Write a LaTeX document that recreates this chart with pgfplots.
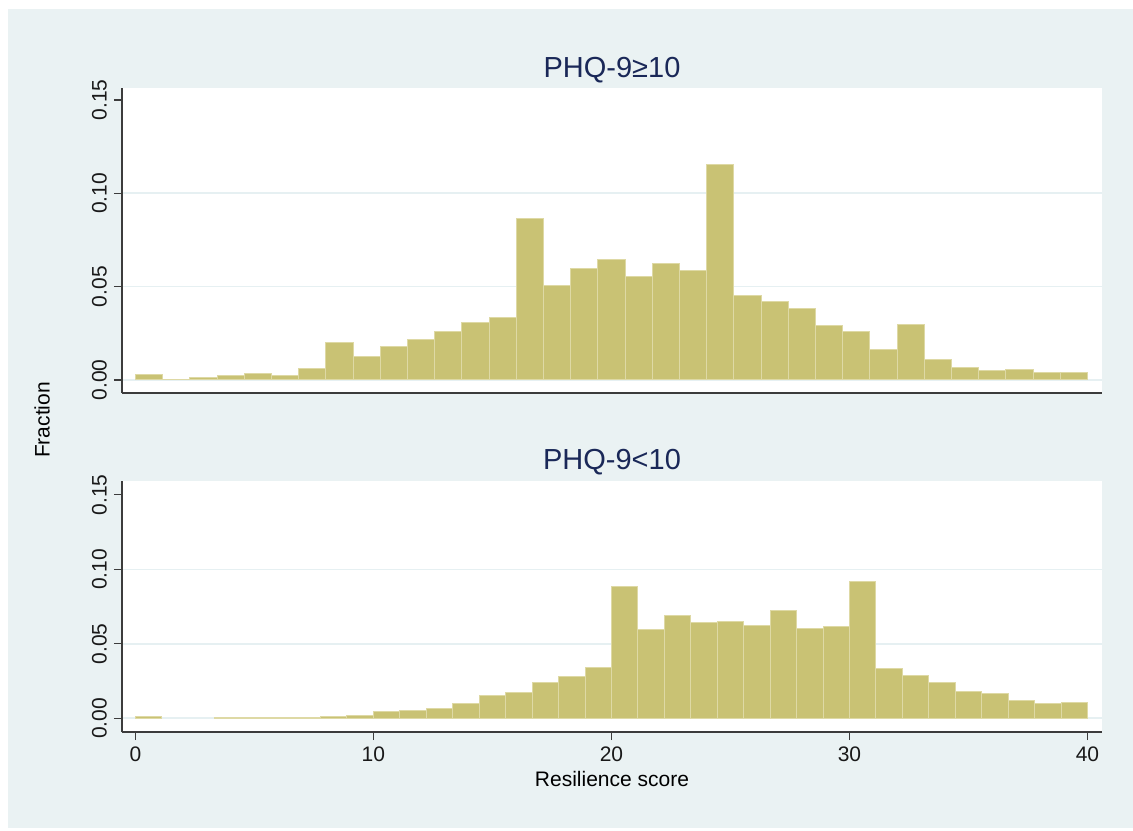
\documentclass[border=0pt]{standalone}
\usepackage{fontspec}
\setmainfont{Liberation Sans}
\usepackage{pgfplots}
\usepackage{pgfplotstable}
\pgfplotsset{compat=1.18}
\definecolor{bgc}{RGB}{234,242,243}
\definecolor{barfill}{RGB}{201,194,116}
\definecolor{baredge}{RGB}{222,217,165}
\definecolor{gridc}{RGB}{230,240,242}
\definecolor{titlec}{RGB}{26,40,88}
\definecolor{axc}{RGB}{60,60,60}

% PHQ-9 >= 10 : 35 bins of width 8/7 (bin centres)
\pgfplotstableread{
x y
0.571429 0.0029
1.714286 0.0005
2.857143 0.0014
4.000000 0.0022
5.142857 0.0032
6.285714 0.0025
7.428571 0.0059
8.571429 0.0203
9.714286 0.0127
10.857143 0.0177
12.000000 0.0219
13.142857 0.0260
14.285714 0.0310
15.428571 0.0332
16.571429 0.0866
17.714286 0.0505
18.857143 0.0599
20.000000 0.0647
21.142857 0.0552
22.285714 0.0622
23.428571 0.0584
24.571429 0.1154
25.714286 0.0455
26.857143 0.0421
28.000000 0.0384
29.142857 0.0294
30.285714 0.0258
31.428571 0.0163
32.571429 0.0299
33.714286 0.0109
34.857143 0.0065
36.000000 0.0050
37.142857 0.0056
38.285714 0.0038
39.428571 0.0038
}\tophist

% PHQ-9 < 10 : 36 bins of width 10/9 (bin centres, empty bins omitted)
\pgfplotstableread{
x y
0.555556 0.0011
3.888889 0.0006
5.000000 0.0007
6.111111 0.0007
7.222222 0.0008
8.333333 0.0013
9.444444 0.0016
10.555556 0.0045
11.666667 0.0052
12.777778 0.0067
13.888889 0.0099
15.000000 0.0155
16.111111 0.0175
17.222222 0.0240
18.333333 0.0283
19.444444 0.0339
20.555556 0.0888
21.666667 0.0594
22.777778 0.0691
23.888889 0.0641
25.000000 0.0652
26.111111 0.0626
27.222222 0.0726
28.333333 0.0605
29.444444 0.0617
30.555556 0.0919
31.666667 0.0332
32.777778 0.0287
33.888889 0.0242
35.000000 0.0182
36.111111 0.0164
37.222222 0.0119
38.333333 0.0096
39.444444 0.0103
}\bothist

\pgfplotsset{
  hist/.style={
    scale only axis,
    width=490pt,
    xmin=-0.563, xmax=40.61,
    axis x line*=bottom,
    axis y line*=left,
    axis line style={draw=axc, line width=0.75pt},
    axis background/.style={fill=white},
    ytick={0,0.05,0.1},
    extra y ticks={0.15},
    extra y tick style={ymajorgrids=false},
    ymajorgrids,
    major grid style={draw=gridc, line width=0.8pt},
    /pgf/number format/fixed,
    /pgf/number format/fixed zerofill,
    /pgf/number format/precision=2,
    /pgf/number format/assume math mode=true,
    yticklabel style={rotate=90, anchor=south},
    xticklabel style={/pgf/number format/fixed zerofill=false, /pgf/number format/precision=0},
    tick style={draw=axc, line width=0.6pt},
    major tick length=4pt,
    tick align=outside,
    tick label style={font=\fontsize{10.5}{12}\selectfont, text=black!90},
    title style={at={(0.5,1)}, anchor=base, font=\fontsize{14.5}{16}\selectfont, text=titlec},
    label style={font=\fontsize{10.5}{12}\selectfont},
  }
}

\begin{document}
\begin{tikzpicture}
\fill[white] (0,0) rectangle (566.5pt,415pt);
\fill[bgc] (4pt,1pt) rectangle (566.5pt,410.5pt);

\begin{axis}[hist,
  at={(61pt,218.5pt)}, anchor=south west,
  height=152.5pt,
  ymin=-0.00698, ymax=0.1564,
  xtick=\empty,
  title={PHQ-9≥10},
  title style={yshift=-1pt},
]
\addplot[ybar, bar width=1.142857, bar shift=0pt, fill=barfill, draw=baredge, line width=0.5pt] table {\tophist};
\end{axis}

\begin{axis}[hist,
  at={(61pt,49pt)}, anchor=south west,
  height=125.5pt,
  ymin=-0.0092, ymax=0.1593,
  xtick={0,10,20,30,40},
  title={PHQ-9<10},
  title style={yshift=-0.5pt},
  xlabel={Resilience score},
  xlabel style={yshift=2pt},
]
\addplot[ybar, bar width=1.111111, bar shift=0pt, fill=barfill, draw=baredge, line width=0.5pt] table {\bothist};
\end{axis}

\node[rotate=90, font=\fontsize{10.5}{12}\selectfont] at (21pt,205pt) {Fraction};

\pgfresetboundingbox
\useasboundingbox (0,0) rectangle (566.5pt,415pt);
\end{tikzpicture}
\end{document}
